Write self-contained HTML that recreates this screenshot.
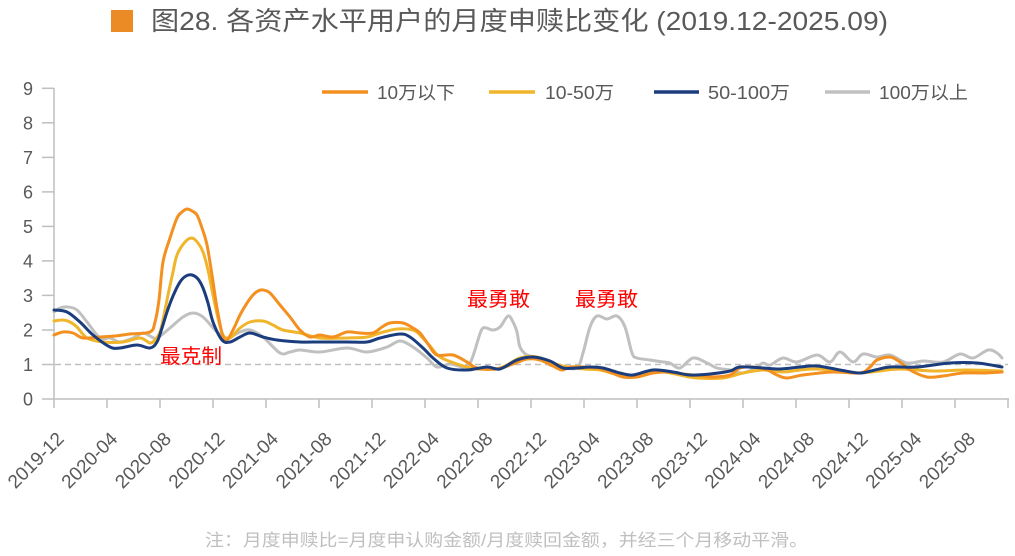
<!DOCTYPE html>
<html>
<head>
<meta charset="utf-8">
<style>
html,body{margin:0;padding:0;background:#fff;}
svg{display:block;}
text{font-family:"Liberation Sans","Noto Sans CJK SC",sans-serif;}
</style>
</head>
<body>
<svg id="chart" width="1015" height="556" viewBox="0 0 1015 556" xmlns="http://www.w3.org/2000/svg">
<rect width="1015" height="556" fill="#fff"/>
<!-- Title -->
<rect x="111" y="10" width="22" height="22" fill="#EA8B25"/>
<text x="151" y="30" font-size="26" fill="#595959" textLength="737" lengthAdjust="spacingAndGlyphs">图28. 各资产水平用户的月度申赎比变化 (2019.12-2025.09)</text>

<!-- Legend -->
<line x1="322" y1="92" x2="368" y2="92" stroke="#F39020" stroke-width="3.5"/>
<text x="377" y="99" font-size="18" fill="#595959" textLength="78" lengthAdjust="spacingAndGlyphs">10万以下</text>
<line x1="489" y1="92" x2="535" y2="92" stroke="#F0B52A" stroke-width="3.5"/>
<text x="545" y="99" font-size="18" fill="#595959" textLength="69" lengthAdjust="spacingAndGlyphs">10-50万</text>
<line x1="654" y1="92" x2="699" y2="92" stroke="#1B3D7D" stroke-width="3.5"/>
<text x="708" y="99" font-size="18" fill="#595959" textLength="82" lengthAdjust="spacingAndGlyphs">50-100万</text>
<line x1="825" y1="92" x2="870" y2="92" stroke="#C0C0C0" stroke-width="3.5"/>
<text x="879" y="99" font-size="18" fill="#595959" textLength="89" lengthAdjust="spacingAndGlyphs">100万以上</text>

<!-- Y axis -->
<g stroke="#BFBFBF" stroke-width="1.5">
<line x1="54" y1="88" x2="54" y2="399"/>
<line x1="42" y1="88.3" x2="54" y2="88.3"/>
<line x1="42" y1="122.8" x2="54" y2="122.8"/>
<line x1="42" y1="157.4" x2="54" y2="157.4"/>
<line x1="42" y1="191.9" x2="54" y2="191.9"/>
<line x1="42" y1="226.4" x2="54" y2="226.4"/>
<line x1="42" y1="260.9" x2="54" y2="260.9"/>
<line x1="42" y1="295.4" x2="54" y2="295.4"/>
<line x1="42" y1="330" x2="54" y2="330"/>
<line x1="42" y1="364.5" x2="54" y2="364.5"/>
<line x1="42" y1="399" x2="54" y2="399"/>
</g>
<g font-size="18" fill="#595959" text-anchor="end">
<text x="33" y="95">9</text>
<text x="33" y="129.5">8</text>
<text x="33" y="164">7</text>
<text x="33" y="198.5">6</text>
<text x="33" y="233">5</text>
<text x="33" y="267.5">4</text>
<text x="33" y="302">3</text>
<text x="33" y="336.5">2</text>
<text x="33" y="371">1</text>
<text x="33" y="405.5">0</text>
</g>

<!-- Dashed reference at 1 -->
<line x1="55" y1="364.5" x2="1008" y2="364.5" stroke="#BFBFBF" stroke-width="1.5" stroke-dasharray="6,4"/>

<!-- X axis -->
<g stroke="#BFBFBF" stroke-width="1.5">
<line x1="54" y1="399" x2="1009" y2="399"/>
<line x1="54" y1="399" x2="54" y2="408"/>
<line x1="107" y1="399" x2="107" y2="408"/>
<line x1="160" y1="399" x2="160" y2="408"/>
<line x1="213" y1="399" x2="213" y2="408"/>
<line x1="266" y1="399" x2="266" y2="408"/>
<line x1="319" y1="399" x2="319" y2="408"/>
<line x1="372" y1="399" x2="372" y2="408"/>
<line x1="425" y1="399" x2="425" y2="408"/>
<line x1="478" y1="399" x2="478" y2="408"/>
<line x1="531" y1="399" x2="531" y2="408"/>
<line x1="584" y1="399" x2="584" y2="408"/>
<line x1="637" y1="399" x2="637" y2="408"/>
<line x1="690" y1="399" x2="690" y2="408"/>
<line x1="743" y1="399" x2="743" y2="408"/>
<line x1="796" y1="399" x2="796" y2="408"/>
<line x1="849" y1="399" x2="849" y2="408"/>
<line x1="902" y1="399" x2="902" y2="408"/>
<line x1="955" y1="399" x2="955" y2="408"/>
<line x1="1008" y1="399" x2="1008" y2="408"/>
</g>
<g font-size="19" fill="#595959" text-anchor="end">
<text transform="translate(65,440) rotate(-45)" textLength="70" lengthAdjust="spacingAndGlyphs">2019-12</text>
<text transform="translate(118.6,440) rotate(-45)" textLength="70" lengthAdjust="spacingAndGlyphs">2020-04</text>
<text transform="translate(172.2,440) rotate(-45)" textLength="70" lengthAdjust="spacingAndGlyphs">2020-08</text>
<text transform="translate(225.8,440) rotate(-45)" textLength="70" lengthAdjust="spacingAndGlyphs">2020-12</text>
<text transform="translate(279.4,440) rotate(-45)" textLength="70" lengthAdjust="spacingAndGlyphs">2021-04</text>
<text transform="translate(333,440) rotate(-45)" textLength="70" lengthAdjust="spacingAndGlyphs">2021-08</text>
<text transform="translate(386.6,440) rotate(-45)" textLength="70" lengthAdjust="spacingAndGlyphs">2021-12</text>
<text transform="translate(440.2,440) rotate(-45)" textLength="70" lengthAdjust="spacingAndGlyphs">2022-04</text>
<text transform="translate(493.8,440) rotate(-45)" textLength="70" lengthAdjust="spacingAndGlyphs">2022-08</text>
<text transform="translate(547.4,440) rotate(-45)" textLength="70" lengthAdjust="spacingAndGlyphs">2022-12</text>
<text transform="translate(601,440) rotate(-45)" textLength="70" lengthAdjust="spacingAndGlyphs">2023-04</text>
<text transform="translate(654.6,440) rotate(-45)" textLength="70" lengthAdjust="spacingAndGlyphs">2023-08</text>
<text transform="translate(708.2,440) rotate(-45)" textLength="70" lengthAdjust="spacingAndGlyphs">2023-12</text>
<text transform="translate(761.8,440) rotate(-45)" textLength="70" lengthAdjust="spacingAndGlyphs">2024-04</text>
<text transform="translate(815.4,440) rotate(-45)" textLength="70" lengthAdjust="spacingAndGlyphs">2024-08</text>
<text transform="translate(869,440) rotate(-45)" textLength="70" lengthAdjust="spacingAndGlyphs">2024-12</text>
<text transform="translate(922.6,440) rotate(-45)" textLength="70" lengthAdjust="spacingAndGlyphs">2025-04</text>
<text transform="translate(976.2,440) rotate(-45)" textLength="70" lengthAdjust="spacingAndGlyphs">2025-08</text>
</g>

<!-- Series -->
<g id="series" fill="none" stroke-width="3" stroke-linejoin="round" stroke-linecap="round">
<!-- Gray 100万以上 -->
<polyline stroke="#C0C0C0" points="54,312 60,308 68,307 77,310 87,322 100,338 110,338 120,342 133,338 143,333 150,336 157,338 170,328 183,317 193,313 203,317 217,332 227,338 240,332 250,330 263,337 280,353 290,352 300,350 320,352 347,348 367,352 387,347 400,341 413,347 427,358 437,367 450,364 463,367 470,363 475,350 478,340 483,328 493,330 500,327 508,316 513,322 517,332 520,347 527,355 540,358 550,365 563,367 577,368 583,353 590,327 597,316 607,319 617,316 625,327 632,353 637,358 650,360 663,362 670,363 680,368 693,358 707,363 717,368 730,370 743,373 757,367 763,363 770,365 783,358 797,362 817,355 830,362 840,352 853,362 863,354 877,357 890,355 907,363 923,361 943,362 960,354 973,358 988,350 997,353 1002,358"/>
<!-- Yellow 10-50万 -->
<polyline stroke="#F0B52A" points="54,321 63,320 70,322 77,327 87,338 103,342 123,342 140,338 150,343 155,340 160,332 164,315 168,295 173,272 177,255 185,242 192,238 198,243 203,252 208,270 213,295 218,318 223,335 230,338 240,328 250,322 263,321 273,325 283,330 300,333 320,338 347,338 367,337 380,333 397,329 413,330 420,335 430,346 440,357 460,365 477,369 500,368 520,358 537,357 553,363 567,367 585,369 600,370 615,374 630,377 645,374 663,372 680,375 697,378 723,378 743,373 763,370 783,372 800,370 817,369 840,371 860,373 880,371 900,369 933,371 967,370 1002,371"/>
<!-- Orange 10万以下 -->
<polyline stroke="#F39020" points="54,335 63,332 73,333 83,338 100,337 115,336 130,334 150,332 155,322 159,300 163,262 170,238 177,218 182,212 187,209 192,211 197,215 202,228 207,245 212,275 217,308 223,337 227,340 233,330 240,315 247,303 253,295 258,291 263,290 270,293 280,305 290,317 300,330 310,337 320,335 333,337 347,332 360,333 373,333 382,327 390,323 403,323 413,328 420,333 428,344 437,355 453,355 467,362 477,368 497,369 513,364 527,359 540,360 553,366 562,370 570,367 583,367 597,368 610,372 623,377 637,377 653,373 667,372 683,374 703,376 713,377 730,375 740,368 753,367 767,370 777,375 787,378 803,375 833,372 860,373 870,367 877,360 890,357 900,362 910,370 927,377 943,376 963,373 983,373 1002,372"/>
<!-- Blue 50-100万 -->
<polyline stroke="#1B3D7D" points="54,310 67,312 80,322 93,335 110,347 120,348 137,345 150,348 157,342 162,328 167,312 173,296 180,282 186,276 192,275 198,279 203,288 208,303 213,322 222,340 230,342 240,337 250,333 263,337 277,340 300,342 313,342 347,342 367,342 380,338 400,334 410,337 423,348 433,358 447,368 467,370 487,367 500,369 517,360 533,357 550,361 563,368 577,368 590,367 603,368 620,373 633,375 653,370 673,372 690,375 710,374 730,371 740,367 763,368 780,369 800,367 817,366 840,370 860,373 875,370 890,367 917,367 950,363 977,363 1002,367"/>
</g>

<!-- Annotations -->
<g font-size="20" fill="#FF0000">
<text x="160" y="363" textLength="62" lengthAdjust="spacingAndGlyphs">最克制</text>
<text x="467" y="306" textLength="63" lengthAdjust="spacingAndGlyphs">最勇敢</text>
<text x="575" y="306" textLength="63" lengthAdjust="spacingAndGlyphs">最勇敢</text>
</g>

<!-- Footnote -->
<text x="205" y="546" font-size="17" fill="#BFBFBF" textLength="603" lengthAdjust="spacingAndGlyphs">注：月度申赎比=月度申认购金额/月度赎回金额，并经三个月移动平滑。</text>
</svg>
<script>
(function(){
  var ns="http://www.w3.org/2000/svg";
  var g=document.getElementById("series");
  var pls=Array.prototype.slice.call(g.getElementsByTagName("polyline"));
  pls.forEach(function(pl){
    var raw=pl.getAttribute("points").trim().split(/\s+/).map(function(s){var a=s.split(",");return [parseFloat(a[0]),parseFloat(a[1])];});
    var n=raw.length;
    var d="M"+raw[0][0]+","+raw[0][1];
    var t=0.5;
    for(var i=0;i<n-1;i++){
      var p0=raw[i>0?i-1:i],p1=raw[i],p2=raw[i+1],p3=raw[i+2<n?i+2:i+1];
      var c1x=p1[0]+(p2[0]-p0[0])*t/3,c1y=p1[1]+(p2[1]-p0[1])*t/3;
      var c2x=p2[0]-(p3[0]-p1[0])*t/3,c2y=p2[1]-(p3[1]-p1[1])*t/3;
      d+=" C"+c1x.toFixed(2)+","+c1y.toFixed(2)+" "+c2x.toFixed(2)+","+c2y.toFixed(2)+" "+p2[0]+","+p2[1];
    }
    var p=document.createElementNS(ns,"path");
    p.setAttribute("d",d);
    p.setAttribute("stroke",pl.getAttribute("stroke"));
    g.insertBefore(p,pl);
    g.removeChild(pl);
  });
})();
</script>
</body>
</html>
